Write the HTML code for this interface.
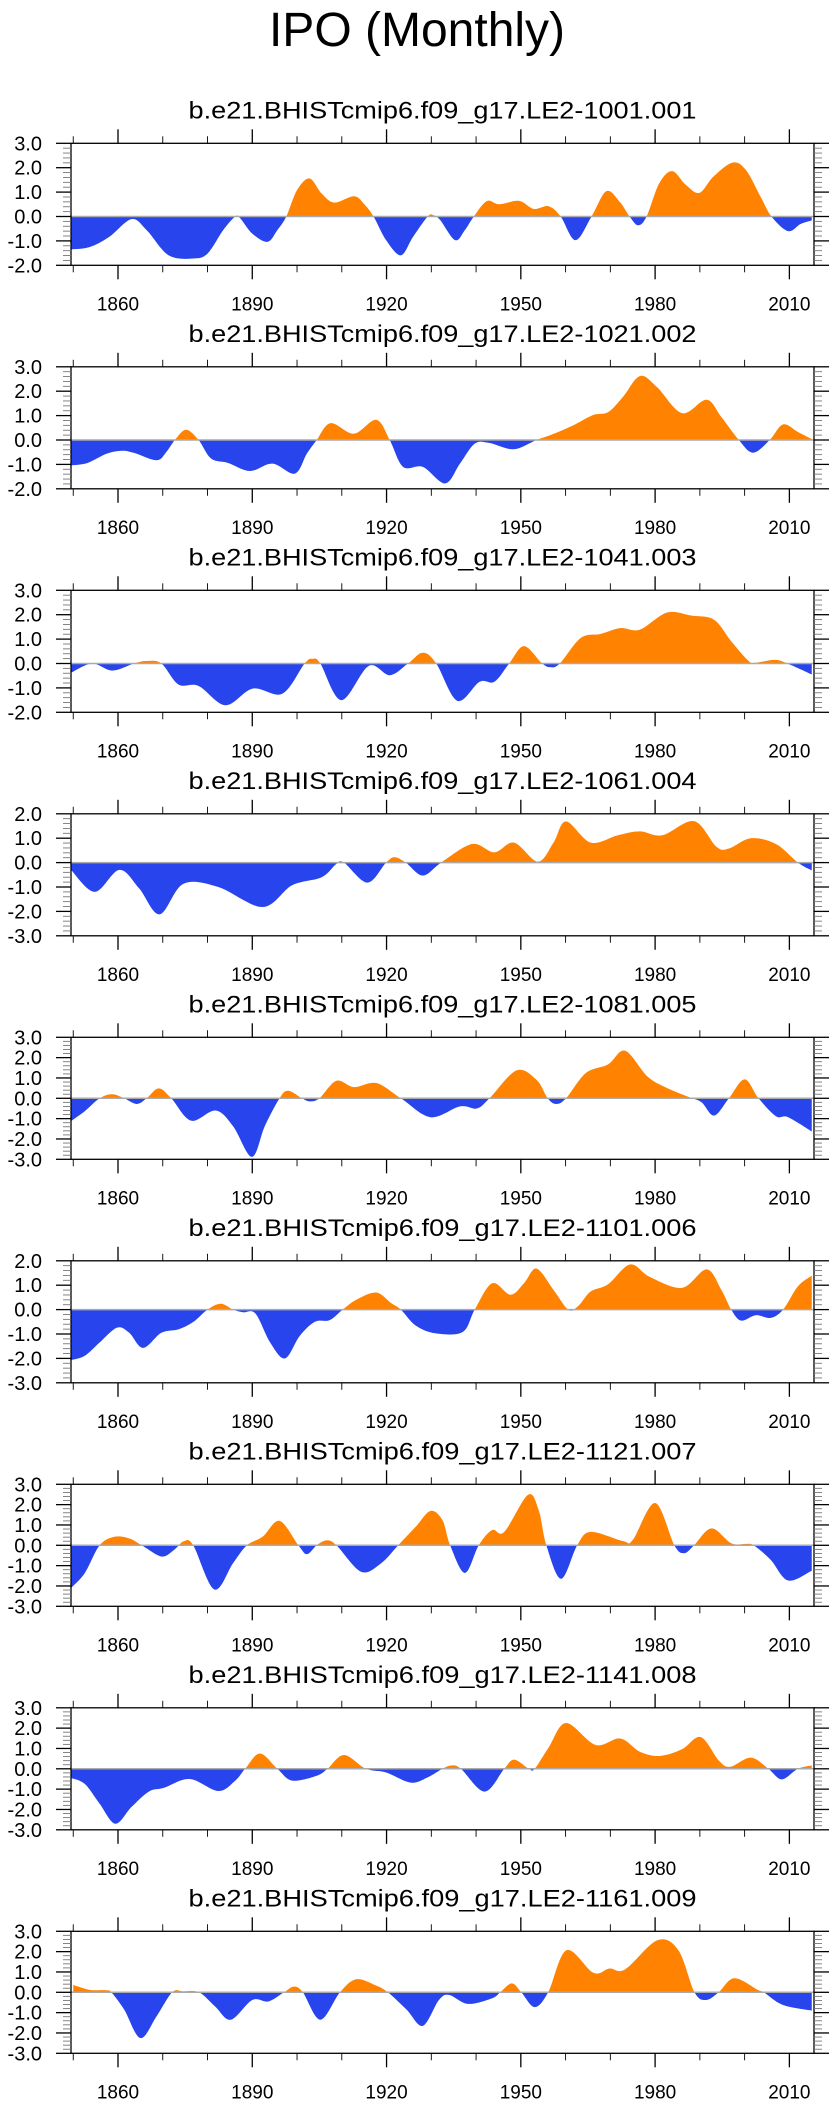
<!DOCTYPE html>
<html><head><meta charset="utf-8"><title>IPO (Monthly)</title>
<style>
html,body{margin:0;padding:0;background:#fff;}
svg{display:block;}
text{font-family:"Liberation Sans",Arial,sans-serif;fill:#000;}
</style></head>
<body>
<svg id="chart" width="834" height="2107" viewBox="0 0 834 2107" xmlns="http://www.w3.org/2000/svg">
<text x="417" y="46" font-size="48" text-anchor="middle">IPO (Monthly)</text>
</svg>
<script>
const yearTicks = [1860,1890,1920,1950,1980,2010];
const panelTitles = ["b.e21.BHISTcmip6.f09_g17.LE2-1001.001","b.e21.BHISTcmip6.f09_g17.LE2-1021.002","b.e21.BHISTcmip6.f09_g17.LE2-1041.003","b.e21.BHISTcmip6.f09_g17.LE2-1061.004","b.e21.BHISTcmip6.f09_g17.LE2-1081.005","b.e21.BHISTcmip6.f09_g17.LE2-1101.006","b.e21.BHISTcmip6.f09_g17.LE2-1121.007","b.e21.BHISTcmip6.f09_g17.LE2-1141.008","b.e21.BHISTcmip6.f09_g17.LE2-1161.009"];
const yMins = [-2,-2,-2,-3,-3,-3,-3,-3,-3];
const yMaxs = [3,3,3,2,3,2,3,3,3];

const p1Years = [1849.5,1853.7,1858,1863,1866.4,1871.3,1876.8,1880,1883.5,1886.2,1887.3,1890,1893.4,1895.6,1897.6,1900,1902.8,1905.5,1908.3,1912.7,1914.9,1917.1,1919.9,1923.2,1925.9,1929.2,1930.5,1932,1935.3,1937.5,1939.5,1942.4,1945.2,1949.6,1952.9,1956.2,1958.9,1962.2,1965.8,1969.1,1972.1,1974.3,1976.2,1978.1,1980.9,1983.8,1986.9,1989.9,1993,1997.3,2000.3,2003.6,2006,2009.7,2012.5,2015];
const p1Values = [-1.35,-1.25,-0.84,-0.11,-0.56,-1.59,-1.72,-1.52,-0.56,0,-0.07,-0.7,-1.04,-0.56,0,1.08,1.56,0.94,0.57,0.83,0.53,0,-0.97,-1.59,-0.84,0,0.05,-0.15,-0.97,-0.56,0,0.63,0.5,0.64,0.31,0.42,0,-0.97,0,1.04,0.6,0,-0.36,0,1.35,1.86,1.29,0.97,1.63,2.21,1.9,0.8,0,-0.6,-0.31,-0.16];

const p2Years = [1849.5,1853.2,1857.5,1860.9,1863.6,1868.6,1870.8,1872.7,1875.2,1878,1880.8,1884.6,1889.5,1894.5,1899.5,1902.2,1904.4,1907.5,1912.7,1917.7,1920.7,1923.7,1928.1,1933.1,1936.4,1939.7,1942.9,1948.4,1953.5,1957.3,1961.7,1966.1,1969.5,1972.8,1976.6,1980.4,1986,1991.5,1994.8,1998.7,2001.9,2005.6,2008.6,2011.9,2015];
const p2Values = [-1.04,-0.94,-0.56,-0.44,-0.53,-0.83,-0.49,0,0.42,0,-0.76,-0.94,-1.27,-0.97,-1.38,-0.56,0,0.69,0.26,0.83,0,-1.1,-1.1,-1.78,-0.97,-0.15,-0.12,-0.38,0,0.25,0.6,1.02,1.14,1.76,2.62,2.17,1.1,1.65,0.94,0,-0.52,0,0.64,0.33,0.04];

const p3Years = [1849.5,1854.2,1858.7,1863.6,1866.4,1869.7,1873.5,1878,1884,1890.1,1896.7,1901.7,1903.5,1905.2,1909.9,1916,1920.7,1924.8,1928.1,1931.1,1935.8,1940.8,1944.1,1947.4,1950.7,1954.6,1956.5,1958.7,1963.4,1967.8,1972.2,1976.6,1982.7,1988.2,1993.2,1997,2000.9,2002.5,2006.9,2010.2,2015];
const p3Values = [-0.38,0,-0.29,0,0.1,0,-0.86,-0.92,-1.71,-1.03,-1.24,0,0.19,0,-1.5,-0.1,-0.48,0,0.44,0,-1.53,-0.75,-0.75,0,0.71,0.03,-0.15,0,1.05,1.21,1.45,1.39,2.09,1.96,1.79,0.91,0.1,0.03,0.15,-0.05,-0.45];

const p4Years = [1849.5,1854.8,1860.3,1864.7,1869.3,1874.6,1882.4,1892.3,1898.9,1905.5,1908.8,1910.5,1915.7,1919.9,1921.8,1924.3,1928.1,1932.2,1939.1,1944.1,1948.5,1953.8,1957.3,1960.1,1965.6,1971.7,1976.6,1981.6,1988.7,1993.7,1996.5,2001.4,2007,2011.9,2015];
const p4Values = [-0.3,-1.2,-0.3,-1.05,-2.12,-0.87,-1,-1.82,-0.93,-0.6,-0.05,0,-0.82,0,0.22,0,-0.53,0,0.76,0.42,0.82,0.04,0.82,1.69,0.82,1.12,1.28,1.12,1.7,0.65,0.58,1,0.76,0,-0.32];

const p5Years = [1849.5,1852.6,1855.9,1858.7,1861.4,1864.2,1866.4,1869.1,1871.9,1876.3,1881.8,1885.7,1889.9,1892.8,1896.1,1898,1901.1,1902.8,1905,1908.8,1912.7,1917.7,1923.2,1929.8,1936.4,1940.2,1943,1949,1953.5,1956,1957.9,1960.1,1964.5,1969.5,1973.3,1978.3,1982.7,1987.7,1990.4,1993.2,1996.5,2000,2003.1,2007,2009.7,2015];
const p5Values = [-1.12,-0.63,0,0.2,0,-0.28,0,0.49,0,-1.1,-0.6,-1.37,-2.88,-1.37,0,0.37,0,-0.15,0,0.86,0.55,0.75,0,-0.93,-0.4,-0.5,0,1.37,0.91,0,-0.28,0,1.24,1.67,2.34,1.07,0.5,0.05,-0.2,-0.85,0,0.93,0,-0.88,-0.93,-1.63];

const p6Years = [1849.5,1852.6,1855.9,1859.8,1862.5,1865.6,1869.7,1873.5,1876.8,1880,1883,1885.7,1887.9,1890.7,1894,1897.3,1900.6,1904,1907.3,1910.2,1913.3,1917.7,1921,1923.2,1926.5,1930.9,1937,1939.7,1943.6,1947.7,1950.7,1953.5,1957.3,1960.6,1962.8,1965.6,1969.5,1974.4,1978.8,1986,1991.5,1994.8,1997,1999.2,2002.5,2005.8,2008.6,2011.9,2015];
const p6Values = [-2.07,-1.89,-1.35,-0.74,-0.95,-1.57,-0.95,-0.81,-0.51,0,0.24,0,-0.11,-0.16,-1.35,-2.0,-1.08,-0.5,-0.43,0,0.41,0.7,0.27,0,-0.65,-0.97,-0.92,0,1.08,0.61,1.08,1.68,0.81,0,0.14,0.74,1.04,1.85,1.34,0.89,1.65,0.81,0,-0.45,-0.23,-0.34,0,0.95,1.39];

const p7Years = [1849.5,1852.6,1855.9,1859.2,1862.5,1865.3,1869.7,1872.5,1874.7,1876.8,1881.5,1885.7,1888.8,1892.3,1896.1,1900.3,1902.2,1904.4,1906.6,1908.8,1914.3,1918.8,1922.6,1926.5,1929.8,1932.5,1934.2,1937.5,1940.6,1943.6,1946.3,1951.6,1954,1955.7,1959,1962.6,1965.6,1972.8,1975,1980,1984.3,1986.5,1988.7,1992.6,1997,2000.3,2002,2005.8,2009.7,2015];
const p7Values = [-2.1,-1.36,0,0.42,0.34,0,-0.55,-0.23,0.2,0,-2.17,-0.88,0,0.42,1.2,0,-0.44,0,0.24,0,-1.3,-0.88,0,0.91,1.69,1.23,0,-1.36,0,0.75,0.66,2.48,1.72,0,-1.65,0,0.66,0.21,0.26,2.08,0,-0.39,0,0.83,0.1,0.07,0,-0.71,-1.73,-1.25];

const p8Years = [1849.5,1852.6,1855.9,1859.4,1863,1866.9,1870.2,1876,1882.4,1886.2,1888.4,1891.7,1895.6,1898.9,1904.4,1906.8,1910.5,1915.4,1919.9,1925.4,1929.2,1932.5,1934.5,1936.6,1941.9,1946.3,1948.5,1951.8,1953.1,1956.2,1960.1,1966.7,1972.2,1976.6,1981,1986,1990.2,1994.3,1996.8,2001.4,2005.3,2008.3,2011.9,2015];
const p8Values = [-0.45,-0.75,-1.72,-2.7,-1.88,-1.12,-0.94,-0.5,-1.09,-0.58,0,0.75,0,-0.58,-0.34,0,0.68,0,-0.18,-0.68,-0.42,0,0.16,0,-1.12,0,0.45,0,0,1.04,2.25,1.17,1.49,0.84,0.63,0.96,1.56,0.39,0.1,0.55,0,-0.52,0,0.16];

const p9Years = [1850,1853.7,1857.3,1858.5,1861.4,1865,1868.6,1872.1,1874.5,1878.1,1881.7,1885.2,1890,1893.6,1897.1,1899.3,1901.3,1905.2,1909.6,1913.2,1917.4,1920.3,1924.5,1928.1,1931.7,1934,1938.2,1943.6,1945.4,1948,1950.1,1953.1,1956.1,1960.2,1966.2,1969.8,1973.3,1980.5,1985.2,1988.8,1991.4,1994.2,1997.7,2003,2004.3,2008.5,2015];
const p9Values = [0.36,0.12,0.1,0,-0.86,-2.25,-1.19,0,0.05,0,-0.7,-1.35,-0.38,-0.45,0,0.28,0,-1.35,0,0.64,0.36,0,-0.86,-1.65,-0.38,-0.13,-0.57,-0.29,0,0.44,0,-0.73,0,2.07,0.96,1.17,1.13,2.56,2.07,0,-0.38,0,0.69,0.11,0,-0.62,-0.9];

const allYears = [p1Years,p2Years,p3Years,p4Years,p5Years,p6Years,p7Years,p8Years,p9Years];
const allValues = [p1Values,p2Values,p3Values,p4Values,p5Values,p6Values,p7Values,p8Values,p9Values];

const NS = "http://www.w3.org/2000/svg";
const svg = document.getElementById("chart");
const X0 = 71, X1 = 814, XMIN = 1849.5, XMAX = 2015.5;
const PH = 122, TOP0 = 143.3, STEP = 223.5;
function xScale(yr){ return X0 + (yr - XMIN) / (XMAX - XMIN) * (X1 - X0); }
function mk(tag, attrs, parent){
  const e = document.createElementNS(NS, tag);
  for (const k in attrs) e.setAttribute(k, attrs[k]);
  (parent || svg).appendChild(e);
  return e;
}
function smoothPath(pts){
  let d = "";
  for (let i = 0; i < pts.length - 1; i++){
    const p0 = pts[Math.max(0,i-1)], p1 = pts[i], p2 = pts[i+1], p3 = pts[Math.min(pts.length-1,i+2)];
    const c1x = p1[0] + (p2[0]-p0[0])/6, c1y = p1[1] + (p2[1]-p0[1])/6;
    const c2x = p2[0] - (p3[0]-p1[0])/6, c2y = p2[1] - (p3[1]-p1[1])/6;
    d += ` C${c1x.toFixed(2)},${c1y.toFixed(2)} ${c2x.toFixed(2)},${c2y.toFixed(2)} ${p2[0].toFixed(2)},${p2[1].toFixed(2)}`;
  }
  return d;
}

for (let i = 0; i < 9; i++){
  const top = TOP0 + STEP*i, bot = top + PH;
  const ymin = yMins[i], ymax = yMaxs[i];
  const yScale = v => top + (ymax - v) / (ymax - ymin) * PH;
  const g = mk("g", {});
  
  

  const t = mk("text", {x: (X0+X1)/2, y: top - 25, "font-size": 24.5, "text-anchor": "middle", textLength: 508, lengthAdjust: "spacingAndGlyphs"}, g);
  t.textContent = panelTitles[i];
  
  

  const cidU = "cu"+i, cidD = "cd"+i;
  const defs = mk("defs", {}, g);
  const cu = mk("clipPath", {id: cidU}, defs);
  mk("rect", {x: X0, y: top, width: X1-X0, height: yScale(0)-top}, cu);
  const cd = mk("clipPath", {id: cidD}, defs);
  mk("rect", {x: X0, y: yScale(0), width: X1-X0, height: bot-yScale(0)}, cd);
  const yrs = allYears[i], vals = allValues[i];
  const pts = yrs.map((y,k) => [xScale(y), yScale(vals[k])]);
  const z = yScale(0);
  const d = `M${pts[0][0]},${z} L${pts[0][0]},${pts[0][1]}` + smoothPath(pts) + ` L${pts[pts.length-1][0]},${z} Z`;
  const pos = mk("path", {d: d, fill: "#ff8200", "clip-path": `url(#${cidU})`}, g);
  
  
  const neg = mk("path", {d: d, fill: "#2844ec", "clip-path": `url(#${cidD})`}, g);
  
  
  const zl = mk("line", {x1: X0, x2: X1, y1: z, y2: z, stroke: "#aaaaaa", "stroke-width": 1.5}, g);
  
  

  const fr = mk("rect", {x: X0, y: top, width: X1-X0, height: PH, fill: "none", stroke: "#000", "stroke-width": 1.3}, g);
  
  

  for (let yr = 1850; yr <= 2015; yr += 10){
    const x = xScale(yr);
    const major = yearTicks.includes(yr);
    mk("line", {x1: x, x2: x, y1: top, y2: top - (major ? 14 : 7), stroke: "#000", "stroke-width": major ? 1.3 : 0.9}, g);
    mk("line", {x1: x, x2: x, y1: bot, y2: bot + (major ? 14 : 7), stroke: "#000", "stroke-width": major ? 1.3 : 0.9}, g);
  }
  yearTicks.forEach(yr => {
    const tl = mk("text", {x: xScale(yr), y: bot + 45, "font-size": 19, "text-anchor": "middle"}, g);
    tl.textContent = String(yr);
    
    
  });

  for (let v10 = ymin*10; v10 <= ymax*10; v10 += 2){
    const v = v10/10, y = yScale(v);
    const major = v10 % 10 === 0;
    const L = major ? 15 : 8;
    const col = major ? "#000" : "#777";
    mk("line", {x1: X0 - L, x2: X0, y1: y, y2: y, stroke: col, "stroke-width": major ? 1.3 : 0.9}, g);
    mk("line", {x1: X1, x2: X1 + L, y1: y, y2: y, stroke: col, "stroke-width": major ? 1.3 : 0.9}, g);
    if (major){
      const yl = mk("text", {x: 42, y: y + 7, "font-size": 20, "text-anchor": "end"}, g);
      yl.textContent = v.toFixed(1);
      
      
    }
  }
}
</script>
</body></html>
